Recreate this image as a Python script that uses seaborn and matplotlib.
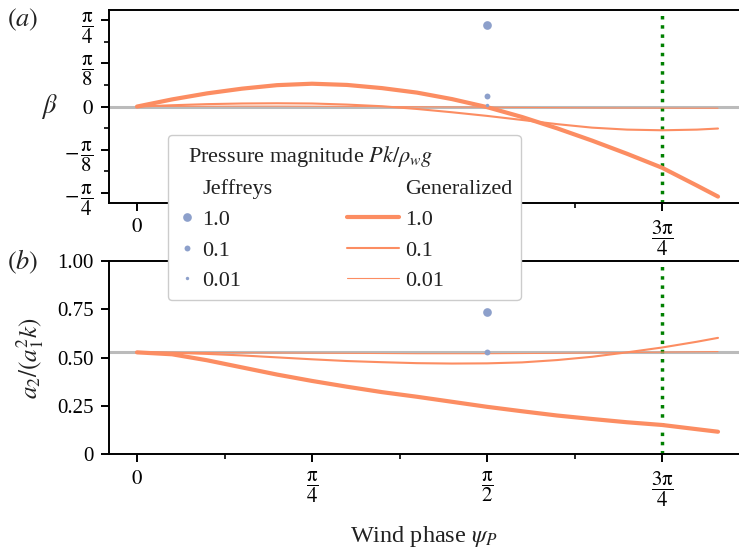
import numpy as np
import pandas as pd
import matplotlib
matplotlib.use("Agg")
import matplotlib.pyplot as plt
import seaborn as sns
from matplotlib.lines import Line2D
from matplotlib.legend_handler import HandlerLine2D
from matplotlib.ticker import FixedLocator


# wind phase grid, in units of pi
psi_frac = [0.0, 0.05, 0.10, 0.15, 0.20, 0.25, 0.30, 0.35, 0.40,
            0.45, 0.50, 0.55, 0.60, 0.65, 0.70, 0.75, 0.80, 0.83]

# (a) beta, generalized model, per pressure magnitude
beta_gen_1 = [0.0, 0.065, 0.120, 0.163, 0.195, 0.208, 0.197, 0.168, 0.127,
              0.068, -0.005, -0.095, -0.198, -0.310, -0.430, -0.557, -0.720, -0.820]
beta_gen_01 = [0.0, 0.012, 0.022, 0.028, 0.030, 0.028, 0.018, 0.003, -0.022,
               -0.052, -0.085, -0.122, -0.160, -0.192, -0.210, -0.216, -0.210, -0.200]
beta_gen_001 = [0.0, 0.002, 0.003, 0.004, 0.004, 0.003, 0.002, 0.0, -0.002,
                -0.004, -0.006, -0.008, -0.010, -0.012, -0.013, -0.014, -0.015, -0.015]

# (b) a2/(a1^2 k), generalized model
amp_gen_1 = [0.528, 0.518, 0.487, 0.450, 0.413, 0.380, 0.350, 0.322, 0.298,
             0.272, 0.246, 0.223, 0.201, 0.183, 0.166, 0.152, 0.130, 0.117]
amp_gen_01 = [0.528, 0.526, 0.520, 0.512, 0.502, 0.492, 0.483, 0.477, 0.472,
              0.470, 0.471, 0.476, 0.488, 0.505, 0.528, 0.553, 0.583, 0.603]
amp_gen_001 = [0.528, 0.528, 0.527, 0.526, 0.525, 0.524, 0.523, 0.522, 0.521,
               0.521, 0.521, 0.522, 0.523, 0.525, 0.527, 0.529, 0.531, 0.532]

# Jeffreys model, evaluated at psi = pi/2
pressures = ["1.0", "0.1", "0.01"]
jeff_beta = [0.745, 0.094, 0.010]
jeff_amp = [0.735, 0.528, 0.528]

beta_ref = 0.0
amp_ref = 0.528
psi_marked = 0.75  # 3pi/4, in units of pi

x_ticks = [0.0, 0.25, 0.5, 0.75]
x_ticklabels = ["$0$", r"$\dfrac{\mathrm{\pi}}{4}$", r"$\dfrac{\mathrm{\pi}}{2}$",
                r"$\dfrac{3\mathrm{\pi}}{4}$"]
beta_ticks = [-0.25, -0.125, 0.0, 0.125, 0.25]
beta_ticklabels = [r"$-\,\dfrac{\mathrm{\pi}}{4}$", r"$-\,\dfrac{\mathrm{\pi}}{8}$", "$0$",
                   r"$\dfrac{\mathrm{\pi}}{8}$", r"$\dfrac{\mathrm{\pi}}{4}$"]
amp_ticks = [0.0, 0.25, 0.5, 0.75, 1.0]
amp_ticklabels = ["0", "0.25", "0.50", "0.75", "1.00"]

orange = "#fc8d62"
blue = "#8da0cb"
line_widths = [3.0, 1.5, 0.8]
marker_sizes = [39, 18, 6]

sns.set_style("ticks")
plt.rcParams["font.family"] = ["Liberation Serif", "DejaVu Serif"]
plt.rcParams["mathtext.fontset"] = "stix"
plt.rcParams["axes.edgecolor"] = "black"
plt.rcParams["xtick.color"] = "black"
plt.rcParams["ytick.color"] = "black"
plt.rcParams["text.color"] = "#222222"
plt.rcParams["axes.labelcolor"] = "#222222"

FS = 15

psi = np.array(psi_frac) * np.pi
gen_beta = [beta_gen_1, beta_gen_01, beta_gen_001]
gen_amp = [amp_gen_1, amp_gen_01, amp_gen_001]

fig = plt.figure(figsize=(7.39, 5.55), dpi=100)
ax1 = fig.add_axes([0.1475, 0.634, 0.8525, 0.348])
ax2 = fig.add_axes([0.1475, 0.1814, 0.8525, 0.348])

for ax, series, ref, jeff in [(ax1, gen_beta, beta_ref, jeff_beta),
                              (ax2, gen_amp, amp_ref, jeff_amp)]:
    ax.axhline(ref, color="#bbbbbb", lw=2.2, zorder=1)
    ax.axvline(psi_marked * np.pi, color="green", ls=":", lw=2.5, zorder=1)
    for vals, lw in zip(series, line_widths):
        sns.lineplot(x=psi, y=vals, ax=ax, color=orange, lw=lw,
                     zorder=3, legend=False)
    jdf = pd.DataFrame({"psi": [np.pi / 2] * 3, "val": jeff, "P": pressures})
    for (_, row), s in zip(jdf.iterrows(), marker_sizes):
        sns.scatterplot(x=[row["psi"]], y=[row["val"]], ax=ax, color=blue,
                        s=s, linewidth=0, zorder=4, legend=False)

    ax.set_xlim(-0.04 * np.pi, 0.86 * np.pi)
    ax.xaxis.set_major_locator(FixedLocator([t * np.pi for t in x_ticks]))
    ax.xaxis.set_minor_locator(FixedLocator([t * np.pi for t in (0.125, 0.375, 0.625)]))
    ax.set_xticklabels(x_ticklabels, fontsize=FS)
    ax.tick_params(which="major", length=6, width=1.4, pad=5)
    ax.tick_params(which="minor", length=3.5, width=1.2)
    for sp in ["left", "bottom", "top"]:
        ax.spines[sp].set_linewidth(1.4)
    ax.spines["right"].set_visible(False)
    ax.set_xlabel("")
    ax.set_ylabel("")

ax1.set_ylim(-0.28 * np.pi, 0.28 * np.pi)
ax1.yaxis.set_major_locator(FixedLocator([t * np.pi for t in beta_ticks]))
ax1.yaxis.set_minor_locator(FixedLocator([t * np.pi for t in (-0.1875, -0.0625, 0.0625, 0.1875)]))
ax1.set_yticklabels(beta_ticklabels, fontsize=FS)
ax1.set_ylabel(r"$\beta$", fontsize=19, rotation=0, ha="center", va="center")
ax1.yaxis.set_label_coords(-0.094, 0.5)

ax2.set_ylim(0, 1)
ax2.yaxis.set_major_locator(FixedLocator(amp_ticks))
ax2.set_yticklabels(amp_ticklabels, fontsize=FS)
ax2.set_ylabel(r"$a_2/(a_1^2k)$", fontsize=18, va="center")
ax2.yaxis.set_label_coords(-0.125, 0.5)
ax2.set_xlabel(r"Wind phase $\psi_P$", fontsize=17.5, va="center")
ax2.xaxis.set_label_coords(0.5, -0.428)

fig.text(0.009, 0.964, "$(a)$", fontsize=19, va="center")
fig.text(0.009, 0.528, "$(b)$", fontsize=19, va="center")


class LongLine(HandlerLine2D):
    # line handles reach further left than the handle box
    def get_xdata(self, legend, xdescent, ydescent, width, height, fontsize):
        x0 = -xdescent - 1.6 * width
        x1 = -xdescent + width
        return [x0, x1], [0.5 * (x0 + x1)]


dots = [Line2D([], [], linestyle="none", marker="o", color=blue, mec="none",
               markersize=np.sqrt(s)) for s in marker_sizes]
gen_lines = [Line2D([], [], color=orange, lw=lw) for lw in line_widths]
headers = [Line2D([], [], linestyle="none"), Line2D([], [], linestyle="none")]
handles = [headers[0]] + dots + [headers[1]] + gen_lines
labels = ["Jeffreys"] + pressures + ["Generalized"] + pressures
hmap = {h: LongLine(numpoints=1) for h in gen_lines}

leg = fig.legend(handles, labels, ncol=2, loc="upper left",
                 bbox_to_anchor=(168 / 739, 1 - 135 / 555), borderaxespad=0,
                 title=r"  Pressure magnitude $Pk/\rho_w g$",
                 title_fontsize=16, fontsize=16, alignment="left",
                 handlelength=0.9, handletextpad=0.25, columnspacing=4.8,
                 labelspacing=0.45, framealpha=1, edgecolor="#cccccc",
                 fancybox=True, handler_map=hmap)
leg.get_frame().set_linewidth(1.0)

fig.savefig("out.png", dpi=100)
